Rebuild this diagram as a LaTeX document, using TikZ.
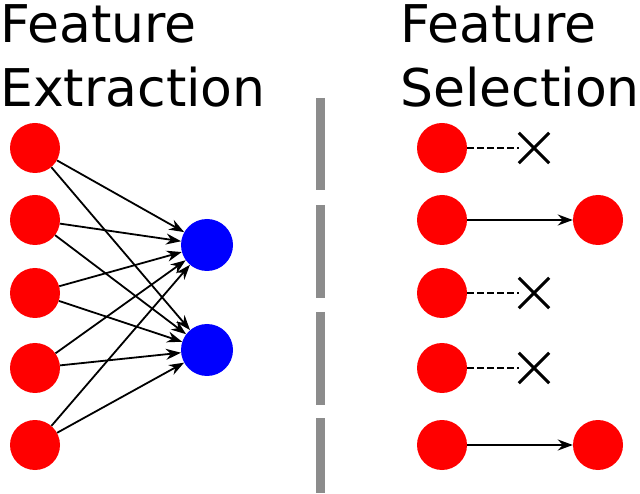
\documentclass[tikz,border=0pt]{standalone}
\usepackage{fontspec}
\setmainfont{DejaVu Sans}
\usetikzlibrary{arrows.meta}
\begin{document}
\begin{tikzpicture}[x=1pt,y=1pt,
    feat/.style={circle, fill=red, minimum size=50pt, inner sep=0pt},
    comp/.style={circle, fill=blue, minimum size=52pt, inner sep=0pt},
    link/.style={-{Stealth[length=15pt,width=11pt]}, line width=1.8pt},
    title/.style={font=\fontsize{52}{64}\selectfont, align=left, anchor=north west, inner sep=0pt}]
  \useasboundingbox (0,0) rectangle (640,493);

  % Titel
  \node[title] (tl) at (0,489) {Feature\\Extraction};
  \node[title] (tr) at (400,489) {Feature\\Selection};

  % Extraktion
  \foreach \i/\y in {1/345, 2/273, 3/200, 4/125, 5/48}
    \node[feat] (l\i) at (35,\y) {};
  \node[comp] (b1) at (207,248) {};
  \node[comp] (b2) at (207,143) {};
  \foreach \i in {1,...,5}
    \foreach \j in {b1,b2}
      \draw[link] (l\i) -- (\j);

  % Trenner
  \draw[line width=9pt, gray!90] (320,395) -- (320,303);
  \draw[line width=9pt, gray!90] (320,288) -- (320,195);
  \draw[line width=9pt, gray!90] (320,181) -- (320,88);
  \draw[line width=9pt, gray!90] (320,75) -- (320,0);

  % Selektion
  \foreach \i/\y in {1/345, 2/273, 3/200, 4/125, 5/48}
    \node[feat] (r\i) at (442,\y) {};
  \node[feat] (s2) at (598,273) {};
  \node[feat] (s5) at (598,48) {};
  \draw[link] (r2) -- (s2);
  \draw[link] (r5) -- (s5);
  \foreach \i in {1,3,4} {
    \node[inner sep=0pt, minimum size=30pt] (x\i) at ([xshift=92pt]r\i) {};
    \draw[line width=2.2pt, dash pattern=on 7pt off 3pt] (r\i) -- (x\i.west);
    \draw[line width=3pt] (x\i.north west) -- (x\i.south east)
      (x\i.north east) -- (x\i.south west);
  }
\end{tikzpicture}
\end{document}
